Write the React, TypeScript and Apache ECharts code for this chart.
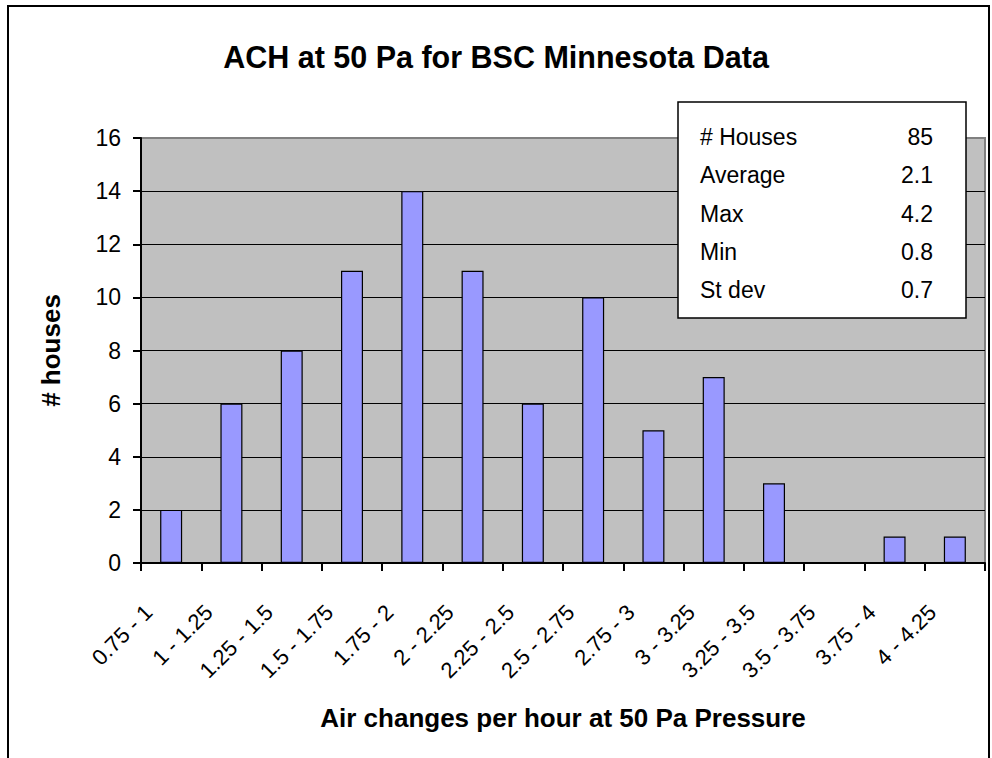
import React, { useEffect, useRef } from "react";
import * as echarts from "echarts";

const categories = [
  "0.75 - 1", "1 - 1.25", "1.25 - 1.5", "1.5 - 1.75", "1.75 - 2", "2 - 2.25", "2.25 - 2.5",
  "2.5 - 2.75", "2.75 - 3", "3 - 3.25", "3.25 - 3.5", "3.5 - 3.75", "3.75 - 4", "4 - 4.25",
];
const houseCounts = [2, 6, 8, 11, 14, 11, 6, 10, 5, 7, 3, 0, 1, 1];
const statLabels = ["# Houses", "Average", "Max", "Min", "St dev"];
const statValues = ["85", "2.1", "4.2", "0.8", "0.7"];

const FONT = "Liberation Sans, Arial, sans-serif";

export default function App() {
  const ref = useRef<HTMLDivElement>(null);
  useEffect(() => {
    const chart = echarts.init(ref.current!, null, { renderer: "svg" });
    const statTexts: any[] = [];
    statLabels.forEach((l, i) => {
      statTexts.push({
        type: "text", x: 700, y: 137 + i * 38.3,
        style: { text: l, font: `23px ${FONT}`, fill: "#000", textAlign: "left", textVerticalAlign: "middle" },
      });
      statTexts.push({
        type: "text", x: 933, y: 137 + i * 38.3,
        style: { text: statValues[i], font: `23px ${FONT}`, fill: "#000", textAlign: "right", textVerticalAlign: "middle" },
      });
    });
    chart.setOption({
      animation: false,
      backgroundColor: "#fff",
      title: {
        text: "ACH at 50 Pa for BSC Minnesota Data",
        left: "center",
        top: 36,
        textStyle: { fontFamily: FONT, fontWeight: "bold", fontSize: 30.5, color: "#000" },
      },
      grid: {
        left: 141, right: 7, top: 138, bottom: 195,
        show: true, backgroundColor: "#C0C0C0", borderColor: "#808080", borderWidth: 2,
      },
      xAxis: {
        type: "category",
        data: categories,
        name: "Air changes per hour at 50 Pa Pressure",
        nameLocation: "middle",
        nameGap: 142,
        nameTextStyle: { fontFamily: FONT, fontWeight: "bold", fontSize: 26, color: "#000" },
        axisLine: { lineStyle: { color: "#000", width: 2 } },
        axisTick: { show: true, alignWithLabel: false, length: 8, lineStyle: { color: "#000", width: 2 } },
        axisLabel: {
          rotate: 45, interval: 0, margin: 23, color: "#000", fontFamily: FONT, fontSize: 22,
          padding: [0, 32, 0, 0],
        },
      },
      yAxis: {
        type: "value",
        min: 0, max: 16, interval: 2,
        name: "# houses",
        nameLocation: "middle",
        nameGap: 77,
        nameTextStyle: { fontFamily: FONT, fontWeight: "bold", fontSize: 26, color: "#000" },
        axisLine: { show: true, lineStyle: { color: "#000", width: 2 } },
        axisTick: { show: true, length: 8, lineStyle: { color: "#000", width: 2 } },
        axisLabel: { margin: 20, color: "#000", fontFamily: FONT, fontSize: 23 },
        splitLine: { show: true, showMaxLine: false, showMinLine: false, lineStyle: { color: "#000", width: 1 } },
      },
      series: [
        {
          type: "bar",
          data: houseCounts,
          barWidth: 22,
          itemStyle: { color: "#9999FF", borderColor: "#000", borderWidth: 1.2 },
        },
      ],
      graphic: [
        {
          type: "rect",
          shape: { x: 8, y: 6, width: 981, height: 800 },
          style: { fill: "none", stroke: "#000", lineWidth: 2 },
          silent: true,
          z: 100,
        },
        {
          type: "rect",
          shape: { x: 678, y: 102, width: 288, height: 216 },
          style: { fill: "#fff", stroke: "#000", lineWidth: 1.5 },
          z: 100,
        },
        ...statTexts.map((t) => ({ ...t, z: 101 })),
      ],
    });
    return () => chart.dispose();
  }, []);
  return (
    <div
      ref={ref}
      style={{ position: "absolute", left: 0, top: 0, width: 992, height: 758 }}
    />
  );
}
